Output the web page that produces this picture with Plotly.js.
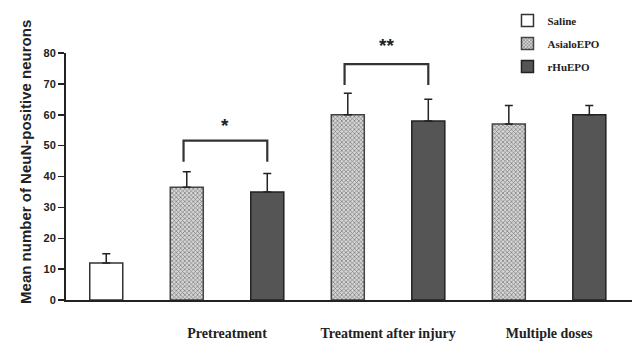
<!DOCTYPE html>
<html>
<head>
<meta charset="utf-8">
<script src="https://cdn.plot.ly/plotly-3.0.1.min.js"></script>
<style>html,body{margin:0;padding:0;background:#fff;}#chart{width:638px;height:344px;}</style>
</head>
<body>
<div id="chart"></div>
<script>
// ---- data ----
var groups = ['Pretreatment', 'Treatment after injury', 'Multiple doses'];
var salineValue = [12];
var salineErr = [3];
var asialoValues = [36.5, 60, 57];
var asialoErr = [5, 7, 6];
var rhuValues = [35, 58, 60];
var rhuErr = [6, 7, 3];
var yTicks = [0, 10, 20, 30, 40, 50, 60, 70, 80];
var sigLabels = ['*', '**'];

// ---- slot positions (saline first, then pairs per group) ----
var salineX = [0];
var asialoX = groups.map(function(g, i){ return 1 + 2 * i; });
var rhuX = groups.map(function(g, i){ return 2 + 2 * i; });
var groupTickX = groups.map(function(g, i){ return 1.5 + 2 * i; });

var errStyle = {type: 'data', visible: true, color: '#222', thickness: 1.5, width: 4};
var barW = 0.41;

var traces = [
  {type: 'bar', name: '<b>Saline</b>', legendgroup: 'a', x: salineX, y: salineValue,
   error_y: Object.assign({array: salineErr, symmetric: false, arrayminus: [0]}, errStyle),
   width: barW, marker: {color: '#ffffff', line: {color: '#333', width: 1.5}}},
  {type: 'bar', name: '<b>AsialoEPO</b>', legendgroup: 'b', x: asialoX, y: asialoValues,
   error_y: Object.assign({array: asialoErr, symmetric: false, arrayminus: [0,0,0]}, errStyle),
   width: barW, marker: {color: '#bdbdbd', line: {color: '#444', width: 1.5},
     pattern: {shape: 'x', fgcolor: '#777', bgcolor: '#d6d6d6', size: 3, solidity: 0.4, fillmode: 'replace'}}},
  {type: 'bar', name: '<b>rHuEPO</b>', legendgroup: 'c', x: rhuX, y: rhuValues,
   error_y: Object.assign({array: rhuErr, symmetric: false, arrayminus: [0,0,0]}, errStyle),
   width: barW, marker: {color: '#555555', line: {color: '#222', width: 1.5}}}
];

// significance brackets between AsialoEPO and rHuEPO of first two groups
var brackets = [
  {g: 0, top: 51.6, leg: 44.8, label: 56.5},
  {g: 1, top: 76.4, leg: 69.6, label: 82.3}
];
var shapes = [];
var annotations = [];
brackets.forEach(function(b, k){
  var x0 = asialoX[b.g] - 0.04, x1 = rhuX[b.g];
  shapes.push({type: 'path', xref: 'x', yref: 'y',
    path: 'M' + x0 + ',' + b.leg + ' L' + x0 + ',' + b.top + ' L' + x1 + ',' + b.top + ' L' + x1 + ',' + b.leg,
    line: {color: '#333', width: 2.2}});
  annotations.push({xref: 'x', yref: 'paper', x: (x0 + x1) / 2, y: b.label / 80, yanchor: 'middle',
    text: '<b>' + sigLabels[k] + '</b>',
    showarrow: false, font: {family: 'Liberation Sans, Arial', size: 19, color: '#222'}});
});
annotations.push({xref: 'paper', yref: 'paper', x: -0.072, xanchor: 'center', y: 0.56, yanchor: 'middle', textangle: -90,
  text: '<b>Mean number of NeuN-positive neurons</b>', showarrow: false,
  font: {family: 'Liberation Sans, Arial', size: 15, color: '#222'}});

var layout = {
  width: 638, height: 344,
  margin: {l: 66, r: 6, t: 53, b: 44},
  paper_bgcolor: '#fff', plot_bgcolor: '#fff',
  showlegend: true,
  legend: {x: 0.78, y: 1.19, xanchor: 'left', yanchor: 'top', bgcolor: 'rgba(0,0,0,0)',
    font: {family: 'Liberation Serif, Times New Roman', size: 11, color: '#222'},
    tracegroupgap: 4, itemwidth: 30},
  xaxis: {range: [-0.5, 6.53], tickmode: 'array', tickvals: groupTickX,
    ticktext: groups.map(function(g){ return '<b>' + g + '</b>'; }),
    showgrid: false, zeroline: false, showline: true, linecolor: '#222', linewidth: 2,
    ticks: '', ticklabelstandoff: 19,
    tickfont: {family: 'Liberation Serif, Times New Roman', size: 14, color: '#222'}},
  yaxis: {range: [0, 80], tickmode: 'array', tickvals: yTicks,
    ticktext: yTicks.map(function(v){ return '<b>' + v + '</b>'; }),
    showgrid: false, zeroline: false, showline: true, linecolor: '#222', linewidth: 2,
    ticks: 'outside', ticklen: 6, tickwidth: 1.5, tickcolor: '#222',
    tickfont: {family: 'Liberation Sans, Arial', size: 11, color: '#222'}},
  shapes: shapes,
  annotations: annotations
};

Plotly.newPlot('chart', traces, layout, {displayModeBar: false, staticPlot: true});
</script>
</body>
</html>
